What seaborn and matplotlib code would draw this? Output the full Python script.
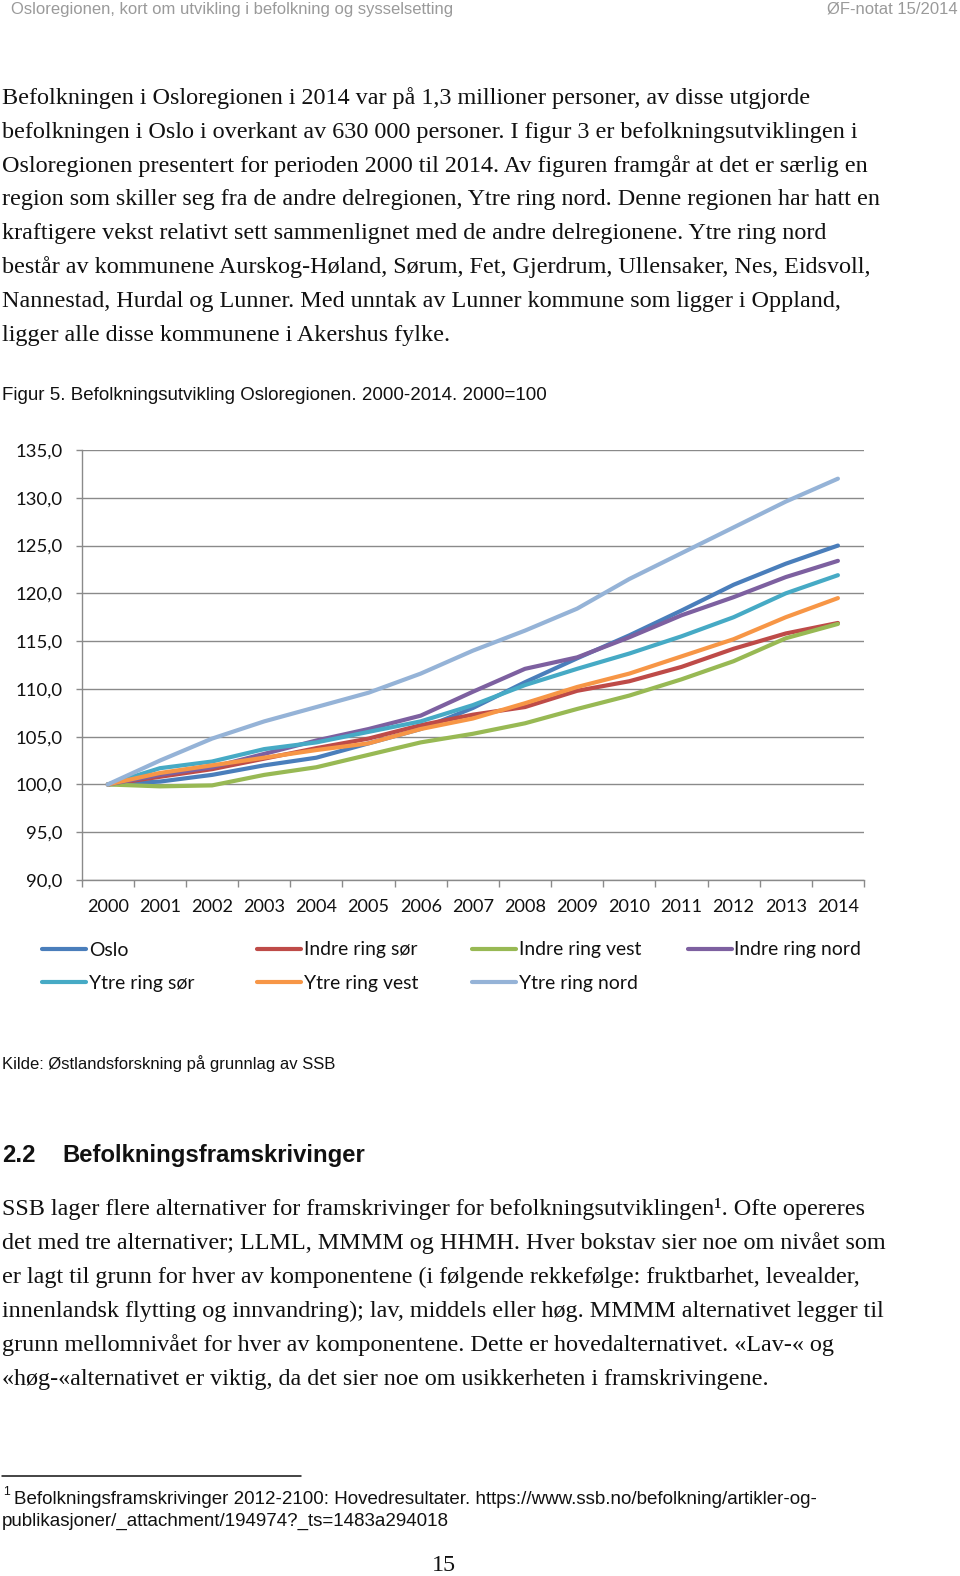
import matplotlib
matplotlib.use('Agg')
import matplotlib.pyplot as plt
from matplotlib import font_manager
from matplotlib.lines import Line2D
import pandas as pd
import seaborn as sns

# ---------------- data ----------------
years = list(range(2000, 2015))
regions = ["Oslo", "Indre ring sør", "Indre ring vest", "Indre ring nord",
           "Ytre ring sør", "Ytre ring vest", "Ytre ring nord"]
oslo = [100, 100.3, 101.0, 102.0, 102.8, 104.3, 105.8, 108.0, 110.7, 113.2, 115.6, 118.2, 120.9, 123.1, 125.0]
indre_sor = [100, 100.8, 101.6, 102.7, 103.8, 104.8, 106.2, 107.3, 108.1, 109.8, 110.8, 112.3, 114.2, 115.8, 116.9]
indre_vest = [100, 99.8, 99.9, 101.0, 101.8, 103.1, 104.4, 105.3, 106.4, 107.9, 109.3, 111.0, 112.9, 115.3, 116.8]
indre_nord = [100, 101.0, 101.8, 103.2, 104.6, 105.8, 107.2, 109.7, 112.1, 113.3, 115.4, 117.7, 119.6, 121.7, 123.4]
ytre_sor = [100, 101.7, 102.4, 103.7, 104.4, 105.5, 106.6, 108.3, 110.4, 112.1, 113.7, 115.5, 117.5, 120.0, 121.9]
ytre_vest = [100, 101.2, 102.0, 102.8, 103.6, 104.3, 105.8, 106.9, 108.5, 110.2, 111.6, 113.4, 115.2, 117.5, 119.5]
ytre_nord = [100, 102.5, 104.8, 106.6, 108.1, 109.6, 111.6, 114.0, 116.1, 118.4, 121.5, 124.2, 126.9, 129.6, 132.0]
y_ticks = [90, 95, 100, 105, 110, 115, 120, 125, 130, 135]
y_tick_labels = ["90,0", "95,0", "100,0", "105,0", "110,0", "115,0", "120,0", "125,0", "130,0", "135,0"]
x_tick_labels = [str(y) for y in years]
colors = ["#4A7EBB", "#BE4B48", "#98B954", "#7D60A0", "#46AAC5", "#F79646", "#95B3D7"]

header_left = "Osloregionen, kort om utvikling i befolkning og sysselsetting"
header_right = "ØF-notat 15/2014"
para1 = [
    "Befolkningen i Osloregionen i 2014 var på 1,3 millioner personer, av disse utgjorde",
    "befolkningen i Oslo i overkant av 630 000 personer. I figur 3 er befolkningsutviklingen i",
    "Osloregionen presentert for perioden 2000 til 2014. Av figuren framgår at det er særlig en",
    "region som skiller seg fra de andre delregionen, Ytre ring nord. Denne regionen har hatt en",
    "kraftigere vekst relativt sett sammenlignet med de andre delregionene. Ytre ring nord",
    "består av kommunene Aurskog-Høland, Sørum, Fet, Gjerdrum, Ullensaker, Nes, Eidsvoll,",
    "Nannestad, Hurdal og Lunner. Med unntak av Lunner kommune som ligger i Oppland,",
    "ligger alle disse kommunene i Akershus fylke.",
]
caption = "Figur 5. Befolkningsutvikling Osloregionen. 2000-2014. 2000=100"
source = "Kilde: Østlandsforskning på grunnlag av SSB"
heading_num = "2.2"
heading_txt = "Befolkningsframskrivinger"
para2 = [
    "SSB lager flere alternativer for framskrivinger for befolkningsutviklingen¹. Ofte opereres",
    "det med tre alternativer; LLML, MMMM og HHMH. Hver bokstav sier noe om nivået som",
    "er lagt til grunn for hver av komponentene (i følgende rekkefølge: fruktbarhet, levealder,",
    "innenlandsk flytting og innvandring); lav, middels eller høg. MMMM alternativet legger til",
    "grunn mellomnivået for hver av komponentene. Dette er hovedalternativet. «Lav-« og",
    "«høg-«alternativet er viktig, da det sier noe om usikkerheten i framskrivingene.",
]
footnote = ["Befolkningsframskrivinger 2012-2100: Hovedresultater. https://www.ssb.no/befolkning/artikler-og-",
            "publikasjoner/_attachment/194974?_ts=1483a294018"]
page_no = "15"

# ---------------- setup ----------------
sns.set_style("white")
names = {f.name for f in font_manager.fontManager.ttflist}
NARROW = "Liberation Sans Narrow" if "Liberation Sans Narrow" in names else "Liberation Sans"
SANS = "Liberation Sans"
SERIF = "Liberation Serif"
CAL = "Lato" if "Lato" in names else "DejaVu Sans"
plt.rcParams['font.family'] = [SANS, 'DejaVu Sans']

W, H = 960, 1576
fig = plt.figure(figsize=(W / 100, H / 100), dpi=100)
renderer = fig.canvas.get_renderer()


def fx(x):
    return x / W


def fy(y):
    return 1 - y / H


def fit(text, target, family, weight="normal"):
    t = fig.text(0, 0, text, fontsize=20, family=family, weight=weight)
    w = t.get_window_extent(renderer).width
    t.remove()
    return 20 * target / w


# ---------------- page text ----------------
hs = fit(header_left, 440, NARROW)
fig.text(fx(11), fy(14), header_left, fontsize=hs, family=NARROW, color="#9a9a9a", va="baseline")
fig.text(fx(958), fy(14), header_right, fontsize=hs, family=NARROW, color="#9a9a9a", va="baseline", ha="right")

bs = fit(para1[3], 878, SERIF)
for i, line in enumerate(para1):
    fig.text(fx(2), fy(104 + 33.8 * i), line, fontsize=bs, family=SERIF, color="#111111", va="baseline")

cs = fit(caption, 544, SANS)
fig.text(fx(2), fy(400), caption, fontsize=cs, family=SANS, color="#111111", va="baseline")

ks = fit(source, 331, NARROW)
fig.text(fx(2), fy(1069), source, fontsize=ks, family=NARROW, color="#111111", va="baseline")

hds = fit(heading_txt, 302, NARROW, "bold")
fig.text(fx(2), fy(1162), heading_num, fontsize=hds, family=NARROW, weight="bold", color="#111111", va="baseline")
fig.text(fx(62), fy(1162), heading_txt, fontsize=hds, family=NARROW, weight="bold", color="#111111", va="baseline")

for i, line in enumerate(para2):
    fig.text(fx(2), fy(1215 + 34 * i), line, fontsize=bs, family=SERIF, color="#111111", va="baseline")

fig.add_artist(Line2D([fx(2), fx(301)], [fy(1476), fy(1476)], color="#111111", lw=1.1))
fs_ = fit(footnote[0], 803, NARROW)
fig.text(fx(3), fy(1495), "1", fontsize=fs_ * 0.65, family=NARROW, color="#111111", va="baseline")
fig.text(fx(14), fy(1504), footnote[0], fontsize=fs_, family=NARROW, color="#111111", va="baseline")
fig.text(fx(2), fy(1526), footnote[1], fontsize=fs_, family=NARROW, color="#111111", va="baseline")

fig.text(fx(444), fy(1571), page_no, fontsize=bs, family=SERIF, color="#111111", va="baseline", ha="center")

# ---------------- chart ----------------
ax = fig.add_axes([fx(81.7), fy(880), (864 - 81.7) / W, 430 / H])
series = [oslo, indre_sor, indre_vest, indre_nord, ytre_sor, ytre_vest, ytre_nord]
df = pd.DataFrame({
    "År": years * len(regions),
    "Indeks": [v for s in series for v in s],
    "Region": [r for r in regions for _ in years],
})
sns.lineplot(data=df, x="År", y="Indeks", hue="Region", hue_order=regions,
             palette=dict(zip(regions, colors)), linewidth=3, legend=False, ax=ax)
for ln in ax.get_lines():
    ln.set_solid_capstyle("round")
    ln.set_solid_joinstyle("round")

grid_c = "#8a8a8a"
ax.set_xlim(1999.5, 2014.5)
ax.set_ylim(90, 135)
ax.set_yticks(y_ticks, labels=y_tick_labels)
ax.set_xticks([1999.5 + k for k in range(16)], labels=[""] * 16)
ax.set_xticks(years, labels=x_tick_labels, minor=True)
ax.set_xlabel("")
ax.set_ylabel("")
ax.grid(axis="y", color=grid_c, lw=1.0)
ax.grid(axis="x", visible=False)
ax.set_axisbelow(True)
for s in ["top", "right"]:
    ax.spines[s].set_visible(False)
for s in ["left", "bottom"]:
    ax.spines[s].set_color(grid_c)
    ax.spines[s].set_linewidth(1.0)

ts = fit("135,0", 47, CAL)
xs = fit("2000", 42, CAL)
ax.tick_params(axis="y", which="major", length=4.3, width=1.0, color=grid_c, pad=9.5,
               labelsize=ts, labelcolor="#111111", left=True)
ax.tick_params(axis="x", which="major", length=5, width=1.0, color=grid_c, direction="out", bottom=True)
ax.tick_params(axis="x", which="minor", length=0, pad=13.5, labelsize=xs, labelcolor="#111111")
for lab in ax.get_yticklabels() + ax.get_xticklabels(minor=True):
    lab.set_family(CAL)

# ---------------- legend ----------------
ls = fit("Indre ring nord", 127.5, CAL)
lpx = ls * 100 / 72
col_x = [42.2, 257.3, 472.4, 687.6]
row_y = [950, 983]
for i, (r, c) in enumerate(zip(regions, colors)):
    row, col = (0, i) if i < 4 else (1, i - 4)
    h = Line2D([], [], color=c, lw=3, solid_capstyle="round")
    fig.legend(handles=[h], labels=[r], loc="center left",
               bbox_to_anchor=(fx(col_x[col]), fy(row_y[row])),
               frameon=False, borderpad=0, borderaxespad=0,
               handlelength=44 / lpx, handletextpad=2.5 / lpx,
               prop={"family": CAL, "size": ls}, labelcolor="#111111")

fig.savefig("out.png", dpi=100)
